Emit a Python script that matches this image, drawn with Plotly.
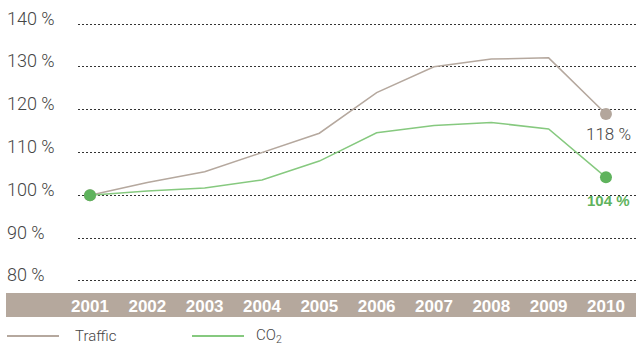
import plotly.graph_objects as go

years = [2001, 2002, 2003, 2004, 2005, 2006, 2007, 2008, 2009, 2010]
traffic = [100, 103, 105.5, 110, 114.5, 124, 130, 131.8, 132.1, 119]
co2 = [100, 101, 101.7, 103.6, 108, 114.6, 116.3, 117, 115.5, 104.2]
y_ticks = [80, 90, 100, 110, 120, 130, 140]
y_tick_labels = ["80 %", "90 %", "100 %", "110 %", "120 %", "130 %", "140 %"]
end_labels = ["118 %", "104 %"]
legend_names = ["Traffic", "CO<sub>2</sub>"]

TRAFFIC_C = "#b5a89e"
TRAFFIC_M = "#b3a69c"
CO2_C = "#86c97f"
CO2_M = "#5fb35d"
BAND_C = "#b5a89d"
TEXT_C = "#454545"
FONT = "Liberation Sans"
LIGHT = "Roboto"

W, H = 636, 348
L, B = 78, 58
plot_w, plot_h = W - L, H - B
px_per_year = 57.33
x0 = 2001 - 12 / px_per_year
x1 = x0 + plot_w / px_per_year
px_per_pct = 4.283
ymax = 140 + 24 / px_per_pct
ymin = ymax - plot_h / px_per_pct

fig = go.Figure()
fig.add_trace(go.Scatter(x=years, y=traffic, mode="lines",
                         line=dict(color=TRAFFIC_C, width=1.5), hoverinfo="skip"))
fig.add_trace(go.Scatter(x=years, y=co2, mode="lines",
                         line=dict(color=CO2_C, width=1.5), hoverinfo="skip"))
fig.add_trace(go.Scatter(x=[years[0], years[-1]], y=[traffic[0], traffic[-1]], mode="markers",
                         marker=dict(color=TRAFFIC_M, size=12), hoverinfo="skip"))
fig.add_trace(go.Scatter(x=[years[0], years[-1]], y=[co2[0], co2[-1]], mode="markers",
                         marker=dict(color=CO2_M, size=12), hoverinfo="skip"))

shapes = []
shapes.append(dict(type="rect", xref="paper", yref="paper",
                   x0=(6 - L) / plot_w, x1=1.0,
                   y0=-(317 - plot_h) / plot_h, y1=-(293 - plot_h) / plot_h,
                   fillcolor=BAND_C, line=dict(width=0), layer="below"))
for (xa, xb, c) in [(7, 59, TRAFFIC_C), (192, 244, CO2_C)]:
    shapes.append(dict(type="line", xref="paper", yref="paper",
                       x0=(xa - L) / plot_w, x1=(xb - L) / plot_w,
                       y0=-(336 - plot_h) / plot_h, y1=-(336 - plot_h) / plot_h,
                       line=dict(color=c, width=2)))

annotations = []
for v, t in zip(y_ticks, y_tick_labels):
    annotations.append(dict(x=(5 - L) / plot_w, xref="paper", y=v, yref="y",
                            text=t, showarrow=False, xanchor="left", yanchor="middle",
                            yshift=6, font=dict(family=LIGHT, size=18, color=TEXT_C, weight=300)))
annotations.append(dict(x=years[-1], y=traffic[-1], text=end_labels[0], showarrow=False,
                        yshift=-20, xshift=3, font=dict(family=LIGHT, size=17, color=TEXT_C, weight=300)))
annotations.append(dict(x=years[-1], y=co2[-1], text="<b>" + end_labels[1] + "</b>", showarrow=False,
                        yshift=-23, xshift=3, font=dict(family=FONT, size=15, color=CO2_M)))
for xa, t in [(73, legend_names[0]), (254, legend_names[1])]:
    annotations.append(dict(x=(xa - L) / plot_w, xref="paper", y=-(336 - plot_h) / plot_h, yref="paper",
                            text=t, showarrow=False, xanchor="left", yanchor="middle",
                            font=dict(family=LIGHT, size=15, color=TEXT_C, weight=300)))

fig.update_layout(
    width=W, height=H,
    margin=dict(l=L, r=0, t=0, b=B, pad=0),
    paper_bgcolor="white", plot_bgcolor="white",
    showlegend=False,
    shapes=shapes, annotations=annotations,
    xaxis=dict(range=[x0, x1], tickvals=years, ticktext=[str(y) for y in years],
               showgrid=False, zeroline=False, showline=False, ticks="",
               tickfont=dict(family=FONT, size=17, color="white", weight="bold"),
               ticklabelstandoff=4, fixedrange=True),
    yaxis=dict(range=[ymin, ymax], tickvals=y_ticks, showticklabels=False,
               showgrid=True, gridcolor="#333333", griddash="2px,2px", gridwidth=1,
               zeroline=False, showline=False, ticks="", fixedrange=True),
)

fig.write_html("out.html", config={"displayModeBar": False})
